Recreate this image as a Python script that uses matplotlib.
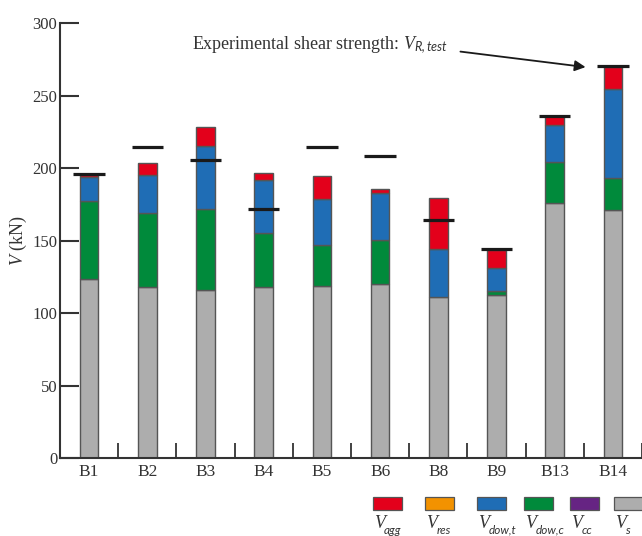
import matplotlib
matplotlib.use("Agg")
import matplotlib.pyplot as plt
from matplotlib.patches import Rectangle
import numpy as np

plt.rcParams['font.family'] = ['Liberation Serif', 'DejaVu Serif']
plt.rcParams['mathtext.fontset'] = 'custom'
plt.rcParams['mathtext.rm'] = 'Liberation Serif'
plt.rcParams['mathtext.it'] = 'Liberation Serif:italic'
plt.rcParams['mathtext.sf'] = 'Lato:italic'

categories = ["B1", "B2", "B3", "B4", "B5", "B6", "B8", "B9", "B13", "B14"]
V_s     = [123.4, 117.9, 116.3, 117.9, 118.8, 120.0, 111.5, 112.4, 176.0, 171.4]
V_dow_c = [54.0, 51.1, 55.4, 37.7, 28.3, 30.3, 0.0, 3.2, 28.6, 21.7]
V_dow_t = [16.8, 26.6, 43.9, 36.5, 31.5, 32.9, 32.6, 15.8, 25.3, 61.6]
V_cc    = [0, 0, 0, 0, 0, 0, 0, 0, 0, 0]
V_res   = [0, 0, 0, 0, 0, 0, 0, 0, 0, 0]
V_agg   = [1.5, 8.3, 12.9, 4.4, 16.1, 2.5, 35.6, 12.3, 6.0, 15.2]
V_test  = [196.0, 214.7, 205.5, 171.9, 214.7, 208.3, 164.1, 144.1, 236.3, 270.3]

colors = {
    "s": "#ADADAD",
    "cc": "#662483",
    "dow_c": "#008A3B",
    "dow_t": "#1F6DB5",
    "res": "#F39200",
    "agg": "#E3001B",
}

fig = plt.figure(figsize=(6.42, 5.36), dpi=100)
ax = fig.add_axes([0.0935, 0.145, 0.9065, 0.8115])

x = np.arange(len(categories))
w = 0.32
bottom = np.zeros(len(categories))
stack = [(V_s, "s"), (V_dow_c, "dow_c"), (V_cc, "cc"), (V_dow_t, "dow_t"), (V_res, "res"), (V_agg, "agg")]
for vals, key in stack:
    vals = np.array(vals, dtype=float)
    mask = vals > 0
    ax.bar(x[mask], vals[mask], w, bottom=bottom[mask], color=colors[key],
           edgecolor="#555555", linewidth=1.0, zorder=2)
    bottom += vals

ax.hlines(V_test, x - 0.27, x + 0.27, colors="#1a1a1a", linewidth=2.3, zorder=3)

ax.set_xlim(-0.5, 9.5)
ax.set_ylim(0, 300)
for s in ["top", "right"]:
    ax.spines[s].set_visible(False)
for s in ["left", "bottom"]:
    ax.spines[s].set_color("#333333")
    ax.spines[s].set_linewidth(1.5)

ax.set_yticks([0, 50, 100, 150, 200, 250, 300])
ax.tick_params(axis="y", direction="in", length=14, width=1.5, color="#333333",
               labelsize=12, pad=2, labelcolor="#333333")
ax.set_xticks(np.arange(len(categories)) + 0.5)
ax.set_xticklabels([])
ax.tick_params(axis="x", which="major", direction="in", length=11, width=1.3, color="#333333")
ax.set_xticks(x, minor=True)
ax.set_xticklabels(categories, minor=True)
ax.tick_params(axis="x", which="minor", length=0, labelsize=12.5, pad=4, labelcolor="#333333")

ax.set_ylabel(r"$V$ (kN)", fontsize=13, color="#333333", labelpad=2)

ax.text(1.765, 285, r"Experimental shear strength: $V_{\mathsf{R,test}}$",
        fontsize=13, color="#333333", ha="left", va="center")
ax.annotate("", xy=(8.53, 269.8), xytext=(6.38, 280.5),
            arrowprops=dict(arrowstyle="-|>", color="#1a1a1a", lw=1.3,
                            mutation_scale=16, shrinkA=0, shrinkB=0))

# legend (patches with labels below)
leg_items = [("agg", "agg", 372.7), ("res", "res", 425), ("dow_t", "dow,t", 477),
             ("dow_c", "dow,c", 524), ("cc", "cc", 570), ("s", "s", 614)]
W, H = 642.0, 536.0
for key, sub, px in leg_items:
    fig.add_artist(Rectangle((px / W, 1 - 510 / H), 29 / W, 13.3 / H,
                             transform=fig.transFigure, facecolor=colors[key],
                             edgecolor="#555555", linewidth=0.9))
    fig.text((px + 1) / W, 1 - 528 / H, "V", fontsize=13, style="italic",
             color="#333333", ha="left", va="baseline")
    fig.text((px + 11.5) / W, 1 - 533.5 / H, sub, fontsize=8.5, style="italic",
             family="Lato", color="#333333", ha="left", va="baseline")

fig.savefig("out.png", dpi=100)
